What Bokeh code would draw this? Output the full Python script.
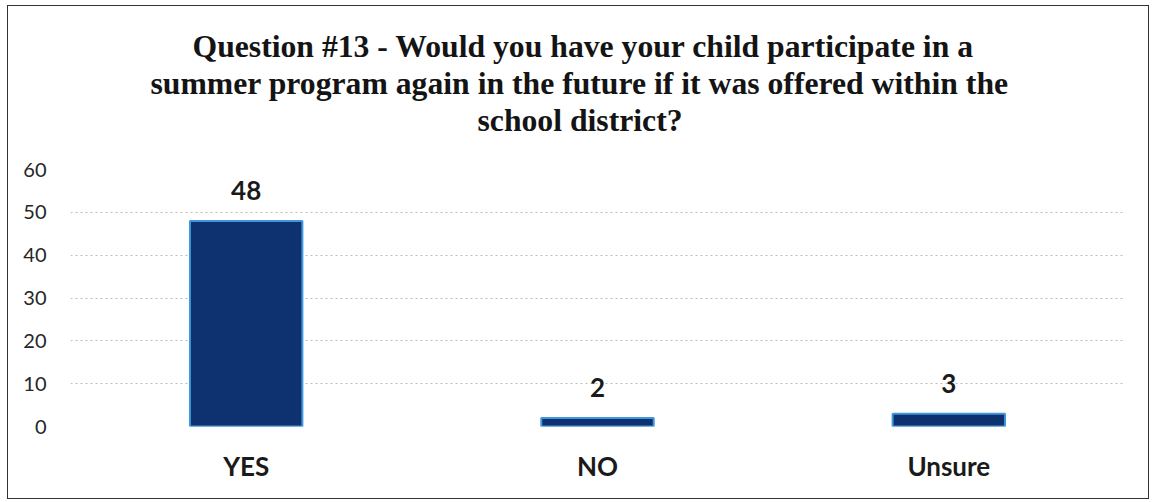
from bokeh.plotting import figure
from bokeh.models import Title, ColumnDataSource, FixedTicker, LabelSet
from bokeh.core.properties import value
from bokeh.embed import file_html
from bokeh.resources import INLINE

categories = ["YES", "NO", "Unsure"]
counts = [48, 2, 3]
y_ticks = [0, 10, 20, 30, 40, 50, 60]
title_lines = [
    "Question #13 - Would you have your child participate in a",
    "summer program again in the future if it was offered within the",
    "school district?",
]
# horizontal start of each title line relative to the plot frame (layout only)
title_offsets = [122, 80, 407]

src = ColumnDataSource(dict(cat=categories, val=counts, lab=[str(v) for v in counts]))

p = figure(x_range=categories, y_range=(0, 60), width=1142, height=494,
           output_backend="svg", toolbar_location=None,
           min_border_left=62, min_border_right=26, min_border_bottom=74,
           min_border_top=163)
p.margin = (5, 3, 3, 7)
p.title = None

# spacer between title block and plot area
p.add_layout(Title(text=" ", text_font="Liberation Serif", text_font_size="27px",
                   standoff=0), "above")
for line, off in zip(reversed(title_lines), reversed(title_offsets)):
    t = Title(text=line, align="left", offset=off, text_font="Liberation Serif",
              text_font_size="31.7px", text_font_style="bold", text_color="#141414",
              standoff=0)
    p.add_layout(t, "above")

p.vbar(x="cat", top="val", width=0.32, source=src, fill_color="#0e3270",
       line_color="#3f97dc", line_width=2)

labels = LabelSet(x="cat", y="val", text="lab", source=src, text_align="center",
                  text_baseline="alphabetic", y_offset=21, text_font=value("Lato"),
                  text_font_size="26px", text_font_style="bold", text_color="#1a1a1a")
p.add_layout(labels)

p.yaxis.ticker = FixedTicker(ticks=y_ticks)
p.yaxis.axis_line_color = None
p.yaxis.major_tick_line_color = None
p.yaxis.minor_tick_line_color = None
p.yaxis.major_label_text_font = "Lato"
p.yaxis.major_label_text_font_size = "20px"
p.yaxis.major_label_text_color = "#262626"
p.yaxis.major_label_standoff = 18

p.xaxis.axis_line_color = None
p.xaxis.major_tick_line_color = None
p.xaxis.major_label_text_font = "Lato"
p.xaxis.major_label_text_font_size = "26px"
p.xaxis.major_label_text_font_style = "bold"
p.xaxis.major_label_text_color = "#1a1a1a"
p.xaxis.major_label_standoff = 17

p.xgrid.grid_line_color = None
p.ygrid.grid_line_color = "#bcbcbc"
p.ygrid.grid_line_dash = "2 3"
p.outline_line_color = None
p.styles = {"border": "1px solid #333333", "box-sizing": "border-box"}

open("out.html", "w").write(file_html(p, INLINE))
